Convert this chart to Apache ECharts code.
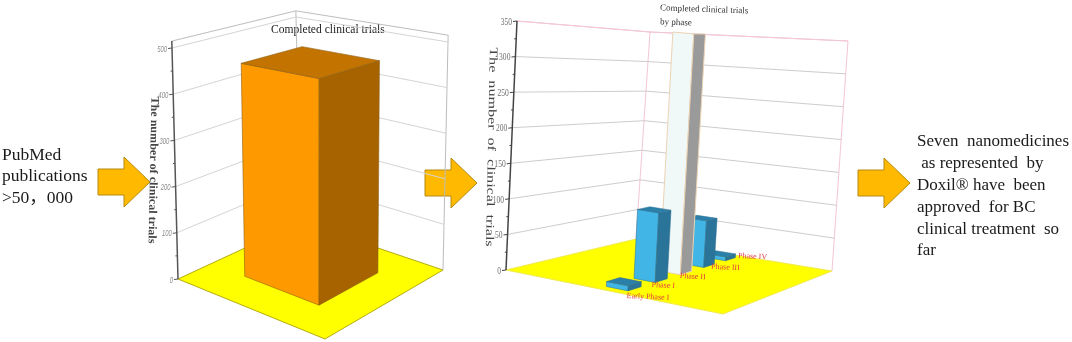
<!DOCTYPE html>
<html><head><meta charset="utf-8">
<style>html,body{margin:0;padding:0;background:#fff}#c{width:1072px;height:342px}</style>
<script src="https://cdn.jsdelivr.net/npm/echarts@6/dist/echarts.min.js"></script>
</head><body><div id="c"></div>
<script>
// ---- data ----
const totalCategories = ['Completed clinical trials'];
const totalValues = [460];
const totalTicks = [0, 100, 200, 300, 400, 500];
const phaseCategories = ['Early Phase I', 'Phase I', 'Phase II', 'Phase III', 'Phase IV'];
const phaseValues = [7, 98, 350, 70, 6];
const phaseTicks = [0, 50, 100, 150, 200, 250, 300, 350];
const leftNote = ['PubMed', 'publications', '>50，000'];
const rightNote = ['Seven  nanomedicines', ' as represented  by', 'Doxil® have  been', 'approved  for BC', 'clinical treatment  so', 'far'];

// ---- layout: the corners of each box on screen ----
function unitToQuad(q) { // q: [p00,p10,p11,p01] for (s,w): (0,0),(1,0),(1,1),(0,1)
  const [[x0,y0],[x1,y1],[x2,y2],[x3,y3]] = q;
  const dx1=x1-x2, dx2=x3-x2, sx=x0-x1+x2-x3, dy1=y1-y2, dy2=y3-y2, sy=y0-y1+y2-y3;
  const den=dx1*dy2-dx2*dy1;
  const g=(sx*dy2-dx2*sy)/den, h=(dx1*sy-sx*dy1)/den;
  const a=x1-x0+g*x1, b=x3-x0+h*x3, c=x0, d=y1-y0+g*y1, e=y3-y0+h*y3, f=y0;
  return (s,w)=>{const k=g*s+h*w+1;return [(a*s+b*w+c)/k,(d*s+e*w+f)/k];};
}
function box(floor, rise) {
  const F=unitToQuad(floor);
  const mix=(s,w,i)=>(1-s)*(1-w)*rise[0][i]+s*(1-w)*rise[1][i]+s*w*rise[2][i]+(1-s)*w*rise[3][i];
  return (s,w,t)=>{const p=F(s,w);return [p[0]+mix(s,w,0)*t,p[1]+mix(s,w,1)*t];};
}
// order: left corner, back corner, right corner, front corner
const leftBox = box([[178,279],[301,222],[443,270],[325,339]], [[-6,-231],[-5,-205],[5,-228],[1,-262]]);
const rightBox = box([[506,270],[636,239],[832,271],[723,314]], [[11,-249],[14,-207],[16,-230],[13,-265]]);

const panels = {
  left: {
    P:leftBox, max:500, ticks:totalTicks, minor:50, over:1.03,
    grid:'#d4d4d4', frame:'#bdbdbd', floorEdge:'#b5ad10', axis:'#555',
    labelFont:'italic 9.5px "Liberation Sans"', labelColor:'#8c8c8c', labelScale:.62,
    ds:.493, dw:.51, s0:.4985, w0:.5
  },
  right: {
    P:rightBox, max:350, ticks:phaseTicks, minor:25, over:1,
    grid:'#cfcbcf', frame:'#f3c6d8', floorEdge:'#f0ea50', axis:'#444',
    labelFont:'10.5px "Liberation Serif"', labelColor:'#6e6e6e', labelScale:.72,
    ds:.095, dw:.10, w0:.515
  }
};
const labelNudge = [[-2,5],[-13,2],[-8,1],[2,-1],[8,-5]];

const poly=(pts,fill,stroke,lw)=>({type:'polygon',shape:{points:pts},style:{fill,stroke:stroke||null,lineWidth:lw||0}});
const line=(pts,stroke,lw)=>({type:'polyline',shape:{points:pts},style:{fill:null,stroke,lineWidth:lw||1}});

function wallRender(cfg){
  return function(params,api){
    const c0=api.coord([0,0])[1], cm=api.coord([0,cfg.max])[1];
    const t=v=>(c0-api.coord([0,v])[1])/(c0-cm);
    const P=cfg.P, kids=[];
    kids.push(poly([P(0,0,0),P(1,0,0),P(1,1,0),P(0,1,0)],'#ffff00',cfg.floorEdge,1));
    kids.push(line([P(1,0,0),P(1,0,cfg.over)],cfg.frame,1));
    kids.push(line([P(1,1,0),P(1,1,cfg.over)],cfg.frame,1));
    kids.push(line([P(0,0,cfg.over),P(1,0,cfg.over),P(1,1,cfg.over)],cfg.frame,1));
    cfg.ticks.forEach(v=>{ if(v===0) return;
      const tt=t(v); const col=(cfg.over===1&&v===cfg.max)?cfg.frame:cfg.grid;
      kids.push(line([P(0,0,tt),P(1,0,tt),P(1,1,tt)],col,1));
    });
    kids.push(line([P(0,0,0),P(0,0,cfg.over)],cfg.axis,1.5));
    for(let v=0;v<=cfg.max;v+=cfg.minor){
      const p=P(0,0,t(v)), major=cfg.ticks.indexOf(v)>=0;
      kids.push(line([[p[0]-(major?4:2),p[1]+(major?0.5:0)],p],cfg.axis,1));
      if(major) kids.push({type:'text',x:p[0]-5,y:p[1]+1,scaleX:cfg.labelScale,style:{text:String(v),font:cfg.labelFont,fill:cfg.labelColor,align:'right',verticalAlign:'middle'}});
    }
    return {type:'group',children:kids};
  };
}
function barFaces(cfg,s,w,ds,dw,tv,cols){
  const P=cfg.P, s1=s-ds/2,s2=s+ds/2,w1=w-dw/2,w2=w+dw/2;
  const kids=[
    poly([P(s1,w1,0),P(s1,w2,0),P(s1,w2,tv),P(s1,w1,tv)],cols[0],cols[3],cols[4]),
    poly([P(s1,w2,0),P(s2,w2,0),P(s2,w2,tv),P(s1,w2,tv)],cols[1],cols[3],cols[4])
  ];
  if(cols[2]) kids.push(poly([P(s1,w1,tv),P(s1,w2,tv),P(s2,w2,tv),P(s2,w1,tv)],cols[2],cols[3],cols[4]));
  return kids;
}
function totalBar(params,api){
  const cfg=panels.left, c0=api.coord([0,0])[1], cm=api.coord([0,cfg.max])[1];
  const tv=(c0-api.coord([0,api.value(1)])[1])/(c0-cm);
  return {type:'group',children:barFaces(cfg,cfg.s0,cfg.w0,cfg.ds,cfg.dw,tv,['#ff9900','#a66300','#c27300','#8f5f10',.6])};
}
function phaseBar(params,api){
  const cfg=panels.right, i=api.value(0), v=api.value(1), n=phaseCategories.length;
  const c0=api.coord([0,0])[1], cm=api.coord([0,cfg.max])[1];
  const tv=(c0-api.coord([0,v])[1])/(c0-cm);
  const s=(i+.5)/n;
  const clipped=v>=cfg.max;
  const cols=clipped?['#f1f8f8','#9a9a9a',null,'#ecd3b4',1]:['#41b5e6','#2a7399','#2b80aa','#2f6f90',.5];
  const kids=barFaces(cfg,s,cfg.w0,cfg.ds,cfg.dw,tv,cols);
  const a=cfg.P(s,cfg.w0+.12,0), nud=labelNudge[i];
  kids.push({type:'text',x:a[0]+nud[0],y:a[1]+nud[1],rotation:-0.05,style:{text:phaseCategories[i],font:'8px "Liberation Serif"',fill:'#e03a42',align:'center',verticalAlign:'middle'}});
  return {type:'group',children:kids};
}
const arrowShape=(x,y)=>[[x,y-13],[x+26,y-13],[x+26,y-25],[x+52,y],[x+26,y+25],[x+26,y+13],[x,y+13]];
const arrow=(x,y)=>({type:'polygon',shape:{points:arrowShape(x,y)},style:{fill:'#ffb900',stroke:'#b58a10',lineWidth:1}});
const serif='"Liberation Serif","Noto Sans CJK SC"';
const graphic=[arrow(98,182),arrow(425,183),arrow(858,183)];
leftNote.forEach((t,i)=>graphic.push({type:'text',x:2,y:155+i*21.5,style:{text:t,font:`17.5px ${serif}`,fill:'#1a1a1a',verticalAlign:'middle'}}));
rightNote.forEach((t,i)=>graphic.push({type:'text',x:917,y:142+i*21.8,style:{text:t,font:`17px ${serif}`,fill:'#1a1a1a',verticalAlign:'middle'}}));
graphic.push({type:'text',x:271,y:30,scaleX:.89,style:{text:'Completed clinical trials',font:`13px ${serif}`,fill:'#222',verticalAlign:'middle'}});
graphic.push({type:'text',x:660,y:8,rotation:-.035,style:{text:'Completed clinical trials',font:`9px ${serif}`,fill:'#333',verticalAlign:'middle'}});
graphic.push({type:'text',x:660,y:22,rotation:-.035,style:{text:'by phase',font:`9px ${serif}`,fill:'#333',verticalAlign:'middle'}});
graphic.push({type:'text',x:153,y:170,rotation:-Math.PI/2-.02,scaleX:1.05,style:{text:'The number of clinical trials',font:`bold 11.5px ${serif}`,fill:'#444',align:'center',verticalAlign:'middle'}});
graphic.push({type:'text',x:491,y:147,rotation:-Math.PI/2-.02,scaleX:1.4,style:{text:'The  number  of  clinical  trials',font:`11.5px ${serif}`,fill:'#444',align:'center',verticalAlign:'middle'}});

const chart=echarts.init(document.getElementById('c'),null,{renderer:'canvas'});
const hiddenY=(max,gi)=>({type:'value',gridIndex:gi,min:0,max,show:false});
chart.setOption({
  animation:false,
  backgroundColor:'#fff',
  grid:[{left:172,top:48,width:276,height:231},{left:506,top:21,width:342,height:249}],
  xAxis:[{type:'category',gridIndex:0,data:totalCategories,show:false},{type:'category',gridIndex:1,data:phaseCategories,show:false}],
  yAxis:[hiddenY(500,0),hiddenY(350,1)],
  graphic:{elements:graphic},
  series:[
    {type:'custom',xAxisIndex:0,yAxisIndex:0,clip:false,z:1,renderItem:wallRender(panels.left),data:[[0,0]]},
    {type:'custom',xAxisIndex:1,yAxisIndex:1,clip:false,z:1,renderItem:wallRender(panels.right),data:[[0,0]]},
    {type:'custom',xAxisIndex:0,yAxisIndex:0,clip:false,z:2,renderItem:totalBar,encode:{x:0,y:1},data:totalValues.map((v,i)=>[i,v])},
    {type:'custom',xAxisIndex:1,yAxisIndex:1,clip:false,z:2,renderItem:phaseBar,encode:{x:0,y:1},data:phaseValues.map((v,i)=>[i,v]).reverse()}
  ]
});
</script></body></html>
